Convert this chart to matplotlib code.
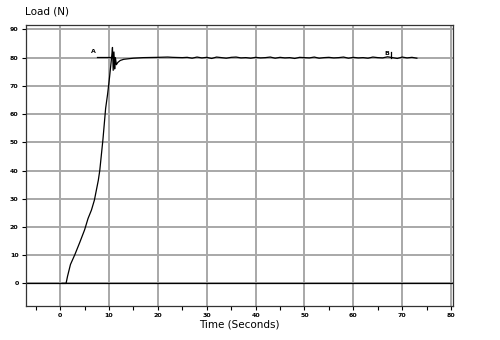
import matplotlib.pyplot as plt
import numpy as np

# load curve: ramp up, overshoot, then hold near 80 N
ramp_t = [0.5, 1.2, 1.5, 2.1, 3.0, 4.0, 5.0, 5.7, 6.4, 7.0, 7.4, 7.8, 8.1,
          8.75, 9.3, 9.7, 10.1, 10.4, 10.6, 10.7, 10.85, 11.0, 11.15, 11.3,
          11.5, 11.8, 12.3, 13.0, 14.0, 15.0, 17.0, 20.0, 22.0, 23.0, 25.0]
ramp_load = [0, 0, 2.5, 6.7, 10.2, 14.5, 19.0, 23.0, 26.0, 29.5, 33.0, 36.5,
             40.0, 51.0, 62.0, 67.0, 73.0, 78.0, 81.5, 83.6, 75.5, 82.0, 76.0,
             80.0, 77.5, 78.3, 79.0, 79.4, 79.6, 79.8, 80.0, 80.1, 80.2, 80.1,
             80.0]

hold_t = list(range(26, 74))
hold_load = [80.1, 79.8, 80.2, 79.9, 80.1, 79.7, 80.2, 80.0, 79.8, 80.1,
             80.2, 79.9, 80.0, 79.8, 80.1, 79.9, 80.0, 80.2, 79.8, 80.1,
             79.9, 80.0, 79.7, 80.1, 80.0, 79.9, 80.2, 79.8, 80.0, 80.1,
             79.9, 80.0, 80.2, 79.8, 80.1, 79.9, 80.0, 79.8, 80.2, 80.0,
             79.9, 80.3, 80.0, 79.7, 80.2, 79.9, 80.1, 79.8]

time = ramp_t + hold_t
load = ramp_load + hold_load

marker_a = ([7.6, 11.0], [80.3, 80.3])
marker_b = ([67.7, 67.7], [80.0, 82.0])

fig = plt.figure(figsize=(5, 3.4), dpi=100)
ax = fig.add_axes([0.051, 0.1, 0.855, 0.826])

ax.set_xlim(-7.1, 80.4)
ax.set_ylim(-8.0, 91.5)

ax.set_xticks(np.arange(0, 81, 10))
ax.set_xticks(np.arange(-5, 81, 10), minor=True)
ax.set_yticks(np.arange(0, 91, 10))
ax.tick_params(axis='both', which='both', direction='out', length=3,
               width=0.8, labelsize=4.5, pad=2)
ax.tick_params(axis='x', which='minor', length=3)
for lbl in ax.get_xticklabels() + ax.get_yticklabels():
    lbl.set_fontweight('bold')

ax.grid(True, which='major', color='#a8a8a8', linewidth=1.4)
ax.set_axisbelow(True)
ax.axhline(0, color='black', linewidth=0.9)

for s in ax.spines.values():
    s.set_linewidth(0.9)
    s.set_color('#333333')

ax.plot(time, load, color='black', linewidth=0.9)
ax.plot(*marker_a, color='black', linewidth=0.9)
ax.plot(*marker_b, color='black', linewidth=0.9)
ax.text(7.4, 81.2, 'A', fontsize=4.5, fontweight='bold', ha='right', va='bottom')
ax.text(67.3, 80.6, 'B', fontsize=4.5, fontweight='bold', ha='right', va='bottom')

ax.set_xlabel('Time (Seconds)', fontsize=7.5, labelpad=1)
fig.text(0.05, 0.965, 'Load (N)', fontsize=7.5, ha='left', va='center')

fig.savefig('out.png', dpi=100)
